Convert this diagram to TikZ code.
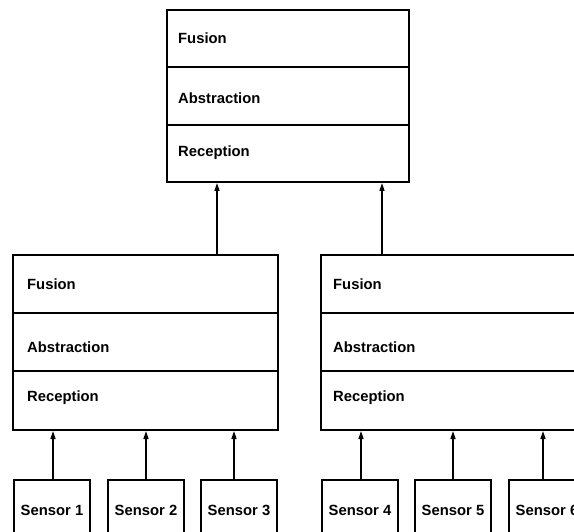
\documentclass[tikz,border=0pt]{standalone}
\usepackage{fontspec}
\setmainfont{Liberation Sans}
\usetikzlibrary{arrows.meta,fit}
\begin{document}
\begin{tikzpicture}[x=1pt,y=-1pt,
  lbl/.style={font=\fontsize{14.8}{17}\selectfont\bfseries,anchor=west,inner sep=0pt},
  outer/.style={draw,line width=2pt,inner sep=0pt,rectangle},
  sensorbox/.style={draw,line width=2pt,rectangle,anchor=north west,inner sep=0pt,
    minimum width=76pt,minimum height=60pt,font=\fontsize{14.8}{17}\selectfont\bfseries},
  arr/.style={line width=1.5pt,-{Triangle[width=5pt,length=8pt]}}]
\useasboundingbox (0,0) rectangle (574,532);
\clip (0,0) rectangle (574,532);
% top stack
\coordinate (T1) at (167,10);
\coordinate (T2) at (409,182);
\node[outer,fit=(T1)(T2)] (T) {};
\draw[line width=1.2pt] (167,67) -- (409,67) (167,125) -- (409,125);
\node[lbl] (Tf) at (178,38) {Fusion};
\node[lbl] (Ta) at (178,98) {Abstraction};
\node[lbl] (Tr) at (178,153) {Reception};
% left stack
\coordinate (L1) at (13,255);
\coordinate (L2) at (278,430);
\node[outer,fit=(L1)(L2)] (L) {};
\draw[line width=1.2pt] (13,313) -- (278,313) (13,371) -- (278,371);
\node[lbl] (Lf) at (27,284) {Fusion};
\node[lbl] (La) at (27,347) {Abstraction};
\node[lbl] (Lr) at (27,398) {Reception};
% right stack
\coordinate (R1) at (321,255);
\coordinate (R2) at (586,430);
\node[outer,fit=(R1)(R2)] (R) {};
\draw[line width=1.2pt] (321,313) -- (586,313) (321,371) -- (586,371);
\node[lbl] (Rf) at (333,284) {Fusion};
\node[lbl] (Ra) at (333,347) {Abstraction};
\node[lbl] (Rr) at (333,398) {Reception};
% sensors
\node[sensorbox] (s1) at (13,479) {Sensor 1};
\node[sensorbox] (s2) at (107,479) {Sensor 2};
\node[sensorbox] (s3) at (200,479) {Sensor 3};
\node[sensorbox] (s4) at (321,479) {Sensor 4};
\node[sensorbox] (s5) at (414,479) {Sensor 5};
\node[sensorbox] (s6) at (508,479) {Sensor 6};
% arrows sensors -> middle
\draw[arr] ([xshift=1pt]s1.north) -- ([xshift=1pt]s1.north |- L.south);
\draw[arr] (s2.north) -- (s2.north |- L.south);
\draw[arr] ([xshift=-5pt]s3.north) -- ([xshift=-5pt]s3.north |- L.south);
\draw[arr] ([xshift=1pt]s4.north) -- ([xshift=1pt]s4.north |- R.south);
\draw[arr] (s5.north) -- (s5.north |- R.south);
\draw[arr] ([xshift=-4pt]s6.north) -- ([xshift=-4pt]s6.north |- R.south);
% arrows middle -> top
\coordinate (a1) at (217,255);
\coordinate (a2) at (382,255);
\draw[arr] (a1) -- (a1 |- T.south);
\draw[arr] (a2) -- (a2 |- T.south);
\end{tikzpicture}
\end{document}
